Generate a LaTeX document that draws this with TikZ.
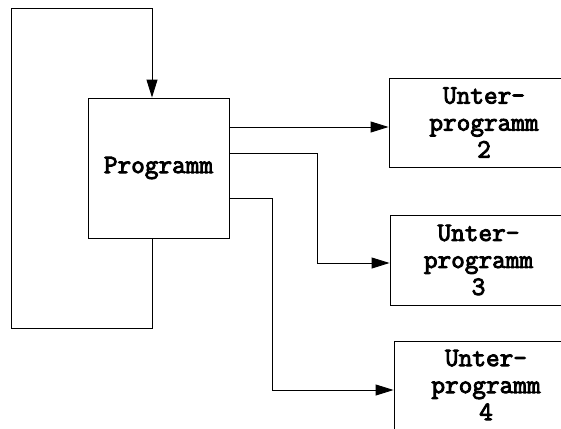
\documentclass[tikz,border=0pt]{standalone}
\usepackage{fontspec}
\newfontfamily\boxfont{Latin Modern Mono}[FakeBold=3.5]
\usetikzlibrary{arrows.meta}
\begin{document}
\begin{tikzpicture}[x=1pt,y=-1pt,
  box/.style={draw,line width=0.9pt,rectangle,inner sep=0pt,align=center,
    font=\boxfont\fontsize{26.5}{27}\selectfont},
  wire/.style={line width=0.9pt},
  arr/.style={wire,-{Triangle[length=18pt,width=11pt]}}]
  \useasboundingbox (0,0) rectangle (561,428);
  \clip (0,0) rectangle (561,428);

  % main program and the three subroutines
  \node[box,minimum width=141pt,minimum height=140pt] (prog) at (158.5,168) {Programm};
  \node[box,minimum width=190pt,minimum height=89pt] (u2) at (484,122.5) {Unter-\\programm\\2};
  \node[box,minimum width=177pt,minimum height=90pt] (u3) at (478.5,260) {Unter-\\programm\\3};
  \node[box,minimum width=184pt,minimum height=88pt] (u4) at (486,385) {Unter-\\programm\\4};

  % loop back into the program
  \coordinate (lb) at (11,328);
  \coordinate (lt) at (11,8);
  \draw[arr] ([xshift=-6.5pt]prog.south) |- (lb) -- (lt) -| ([xshift=-6.5pt]prog.north);

  % calls into the subroutines
  \draw[arr] ([yshift=41pt]prog.east) -- ([yshift=41pt]prog.east -| u2.west);
  \draw[arr] ([yshift=15pt]prog.east) -- ++(87.5,0) |- ([yshift=-3pt]u3.west);
  \draw[arr] ([yshift=-30pt]prog.east) -- ++(43,0) |- ([yshift=-5pt]u4.west);
\end{tikzpicture}
\end{document}
